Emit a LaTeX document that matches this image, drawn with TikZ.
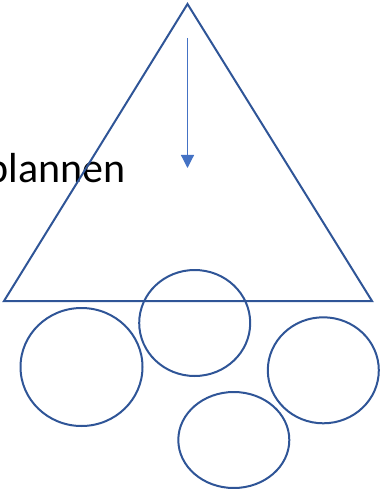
\documentclass[tikz,border=0pt]{standalone}
\usepackage{fontspec}
\setmainfont{Carlito}
\usetikzlibrary{shapes.geometric,arrows.meta}
\definecolor{shapeblue}{HTML}{2F5597}
\definecolor{arrowblue}{HTML}{4472C4}
\tikzset{
  outline/.style={draw=shapeblue, line width=2pt},
  blob/.style={outline, ellipse, inner sep=0pt},
  flow/.style={draw=arrowblue, line width=1.2pt, -{Triangle[width=13pt,length=13pt]}},
}
\begin{document}
\begin{tikzpicture}[x=1pt,y=-1pt]
\useasboundingbox (0,0) rectangle (382,489);
\clip (0,0) rectangle (382,489);
\node[anchor=base east, inner sep=0pt, font=\fontsize{42}{46}\selectfont] (label) at (125.5,182) {plannen};
\coordinate (apex) at (187.5,4);
\coordinate (bl) at (4,301);
\coordinate (br) at (372,301);
\draw[outline, line join=miter] (apex) -- (br) -- (bl) -- cycle;
\coordinate (astart) at (187.5,38);
\coordinate (aend) at (187.5,168);
\draw[flow] (astart) -- (aend);
\node[blob, minimum width=122pt, minimum height=118pt] (e1) at (81.5,367) {};
\node[blob, minimum width=111pt, minimum height=106pt] (e2) at (194.7,323) {};
\node[blob, minimum width=111pt, minimum height=106pt] (e3) at (323.3,370.3) {};
\node[blob, minimum width=111pt, minimum height=96pt] (e4) at (233.8,440) {};
\end{tikzpicture}
\end{document}
